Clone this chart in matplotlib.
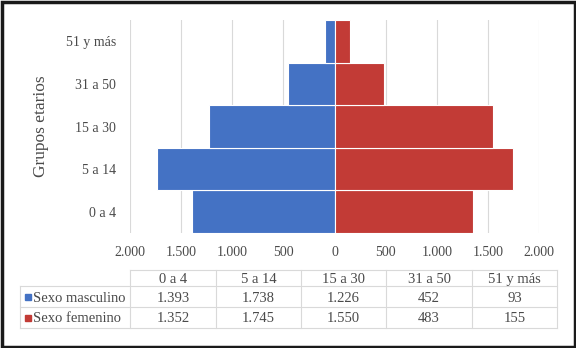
import matplotlib
matplotlib.use("Agg")
import matplotlib.pyplot as plt
from matplotlib.patches import Rectangle
from matplotlib.lines import Line2D
import numpy as np

categories = ["0 a 4", "5 a 14", "15 a 30", "31 a 50", "51 y más"]
male = [1393, 1738, 1226, 452, 93]
female = [1352, 1745, 1550, 483, 155]
series_names = ["Sexo masculino", "Sexo femenino"]
x_ticks = [-2000, -1500, -1000, -500, 0, 500, 1000, 1500, 2000]

BLUE = "#4472C4"
RED = "#C23B36"
GRID = "#D9D9D9"
TXT = "#4A4A4A"
FONT = "Liberation Serif"

plt.rcParams["font.family"] = [FONT, "DejaVu Serif"]

W, H = 576, 348
fig = plt.figure(figsize=(W / 100, H / 100), dpi=100)

def fx(px):
    return px / W

def fy(py):
    return 1 - py / H

ax = fig.add_axes([fx(130), fy(233), fx(539) - fx(130), fy(20) - fy(233)])
y = np.arange(len(categories))
ax.barh(y, [-v for v in male], height=1.0, color=BLUE, edgecolor="white", linewidth=0.8, zorder=3)
ax.barh(y, female, height=1.0, color=RED, edgecolor="white", linewidth=0.8, zorder=3)
ax.set_xlim(-2000, 2000)
ax.set_ylim(-0.5, len(categories) - 0.5)
ax.set_xticks(x_ticks)
ax.set_xticklabels([f"{abs(t):,}".replace(",", ".") for t in x_ticks], fontsize=10, color=TXT)
ax.set_yticks(y)
ax.set_yticklabels(categories, fontsize=10, color=TXT, va="center_baseline")
ax.tick_params(length=0)
ax.tick_params(axis="x", pad=9)
ax.tick_params(axis="y", pad=10)
ax.grid(axis="x", color=GRID, linewidth=0.8, zorder=0)
for s in ax.spines.values():
    s.set_visible(False)
ax.set_ylabel("Grupos etarios", fontsize=12.5, color=TXT, labelpad=12)

# data table
col_x = [20, 130, 216, 301, 386, 472, 557]
row_y = [270, 286, 307, 328]
lc = "#D9D9D9"
lw = 0.8
fig.add_artist(Line2D([fx(col_x[1]), fx(col_x[-1])], [fy(row_y[0])] * 2, color=lc, lw=lw))
for ry in row_y[1:]:
    fig.add_artist(Line2D([fx(col_x[0]), fx(col_x[-1])], [fy(ry)] * 2, color=lc, lw=lw))
fig.add_artist(Line2D([fx(col_x[0])] * 2, [fy(row_y[1]), fy(row_y[-1])], color=lc, lw=lw))
for cx in col_x[1:]:
    fig.add_artist(Line2D([fx(cx)] * 2, [fy(row_y[0]), fy(row_y[-1])], color=lc, lw=lw))

for i, c in enumerate(categories):
    xc = (col_x[i + 1] + col_x[i + 2]) / 2
    fig.text(fx(xc), fy((row_y[0] + row_y[1]) / 2), c, ha="center", va="center_baseline",
             fontsize=10.5, color=TXT)

fmt = lambda v: f"{v:,}".replace(",", ".")
for r, (name, vals, col) in enumerate(zip(series_names, [male, female], [BLUE, RED])):
    yc = (row_y[r + 1] + row_y[r + 2]) / 2
    fig.add_artist(Rectangle((fx(25), fy(yc + 3)), fx(6), fy(0) - fy(6), color=col, transform=fig.transFigure))
    fig.text(fx(33), fy(yc), name, ha="left", va="center_baseline", fontsize=10.5, color=TXT)
    for i, v in enumerate(vals):
        xc = (col_x[i + 1] + col_x[i + 2]) / 2
        fig.text(fx(xc), fy(yc), fmt(v), ha="center", va="center_baseline", fontsize=10.5, color=TXT)

# outer frame
fig.add_artist(Rectangle((fx(1.5), fy(346.5)), fx(573), fy(0) - fy(345), fill=False,
                         edgecolor="#1A1A1A", linewidth=2.5, transform=fig.transFigure))

fig.savefig("out.png", dpi=100)
